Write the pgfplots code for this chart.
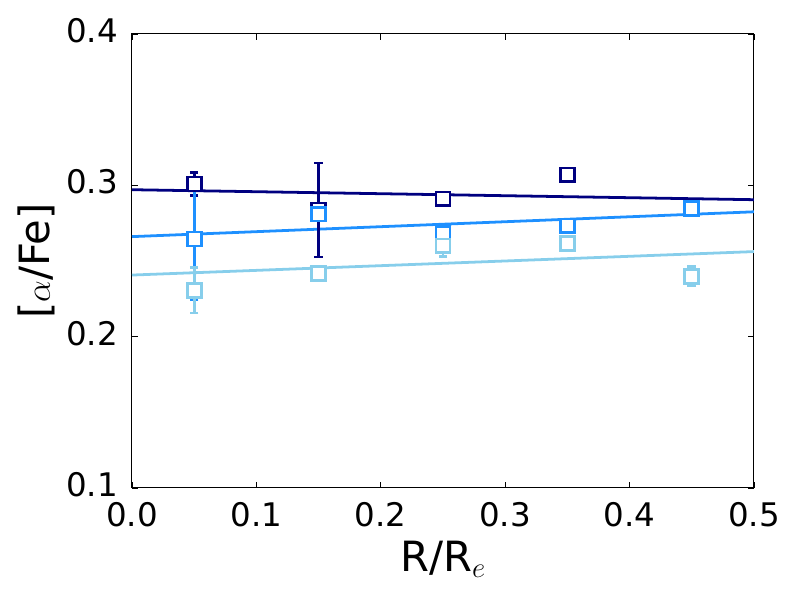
\documentclass[border=0pt]{standalone}
\usepackage{pgfplots}
\pgfplotsset{compat=1.18}
\usepackage{fontspec}
\setmainfont{DejaVu Sans}
\definecolor{cnavy}{RGB}{0,0,128}
\definecolor{cdodger}{RGB}{30,144,255}
\definecolor{csky}{RGB}{135,206,235}
\begin{document}
\begin{tikzpicture}
\useasboundingbox (-95.04pt,-80.64pt) rectangle (481.0pt,351.36pt);
\begin{axis}[
  scale only axis,
  width=447.84pt, height=326.88pt,
  xmin=0, xmax=0.5, ymin=0.1, ymax=0.4,
  xtick={0,0.1,0.2,0.3,0.4,0.5},
  ytick={0.1,0.2,0.3,0.4},
  xticklabels={0.0,0.1,0.2,0.3,0.4,0.5},
  yticklabels={0.1,0.2,0.3,0.4},
  tick align=inside,
  major tick length=4.3pt,
  every tick/.style={black, line width=0.5pt},
  axis line style={line width=0.72pt},
  /pgf/number format/assume math mode=true,
  tick label style={font=\fontsize{23.4}{26}\selectfont},
  every x tick label/.append style={inner sep=0pt, anchor=north, yshift=-9.9pt},
  every y tick label/.append style={inner sep=0pt, anchor=east, xshift=-10pt, yshift=2.4pt},
  every axis x label/.style={at={(axis description cs:0.5,0)}, anchor=base, yshift=-60.5pt, font=\fontsize{30}{34}\selectfont},
  every axis y label/.style={at={(axis description cs:0,0.5)}, xshift=-68.6pt, rotate=90, anchor=center, font=\fontsize{30}{34}\selectfont},
  xlabel={R/R$_e$},
  ylabel={[$\alpha$/Fe]},
  clip=true,
]
% fit lines
\addplot[cnavy, line width=2pt, no marks] coordinates {(0,0.2971) (0.5,0.2905)};
\addplot[cdodger, line width=2pt, no marks] coordinates {(0,0.2661) (0.5,0.2825)};
\addplot[csky, line width=2pt, no marks] coordinates {(0,0.2407) (0.5,0.2562)};
% error bars
\addplot[cnavy, only marks, mark=none, error bars/.cd, y dir=both, y explicit,
  error bar style={line width=2pt},
  error mark options={rotate=90, mark size=3.1pt, line width=2pt}]
  coordinates {(0.05,0.3009) +- (0,0.0075) (0.15,0.2837) +- (0,0.031) (0.25,0.291) +- (0,0.003) (0.35,0.3069) +- (0,0.002)};
\addplot[cdodger, only marks, mark=none, error bars/.cd, y dir=both, y explicit,
  error bar style={line width=2pt},
  error mark options={rotate=90, mark size=3.1pt, line width=2pt}]
  coordinates {(0.05,0.2645) +- (0,0.0397) (0.15,0.281) +- (0,0.004) (0.25,0.2684) +- (0,0.004) (0.35,0.2732) +- (0,0.003) (0.45,0.2847) +- (0,0.003)};
\addplot[csky, only marks, mark=none, error bars/.cd, y dir=both, y explicit,
  error bar style={line width=2pt},
  error mark options={rotate=90, mark size=3.1pt, line width=2pt}]
  coordinates {(0.05,0.2306) +- (0,0.015) (0.15,0.2418) +- (0,0.003) (0.25,0.260) +- (0,0.007) (0.35,0.2617) +- (0,0.003) (0.45,0.2398) +- (0,0.0064)};
% markers
\addplot[cnavy, only marks, mark=square*, mark size=5pt, mark options={fill=white, line width=2pt}]
  coordinates {(0.05,0.3009) (0.15,0.2837) (0.25,0.291) (0.35,0.3069)};
\addplot[cdodger, only marks, mark=square*, mark size=5pt, mark options={fill=white, line width=2pt}]
  coordinates {(0.05,0.2645) (0.15,0.281) (0.25,0.2684) (0.35,0.2732) (0.45,0.2847)};
\addplot[csky, only marks, mark=square*, mark size=5pt, mark options={fill=white, line width=2pt}]
  coordinates {(0.05,0.2306) (0.15,0.2418) (0.25,0.260) (0.35,0.2617) (0.45,0.2398)};
\end{axis}
\end{tikzpicture}
\end{document}
